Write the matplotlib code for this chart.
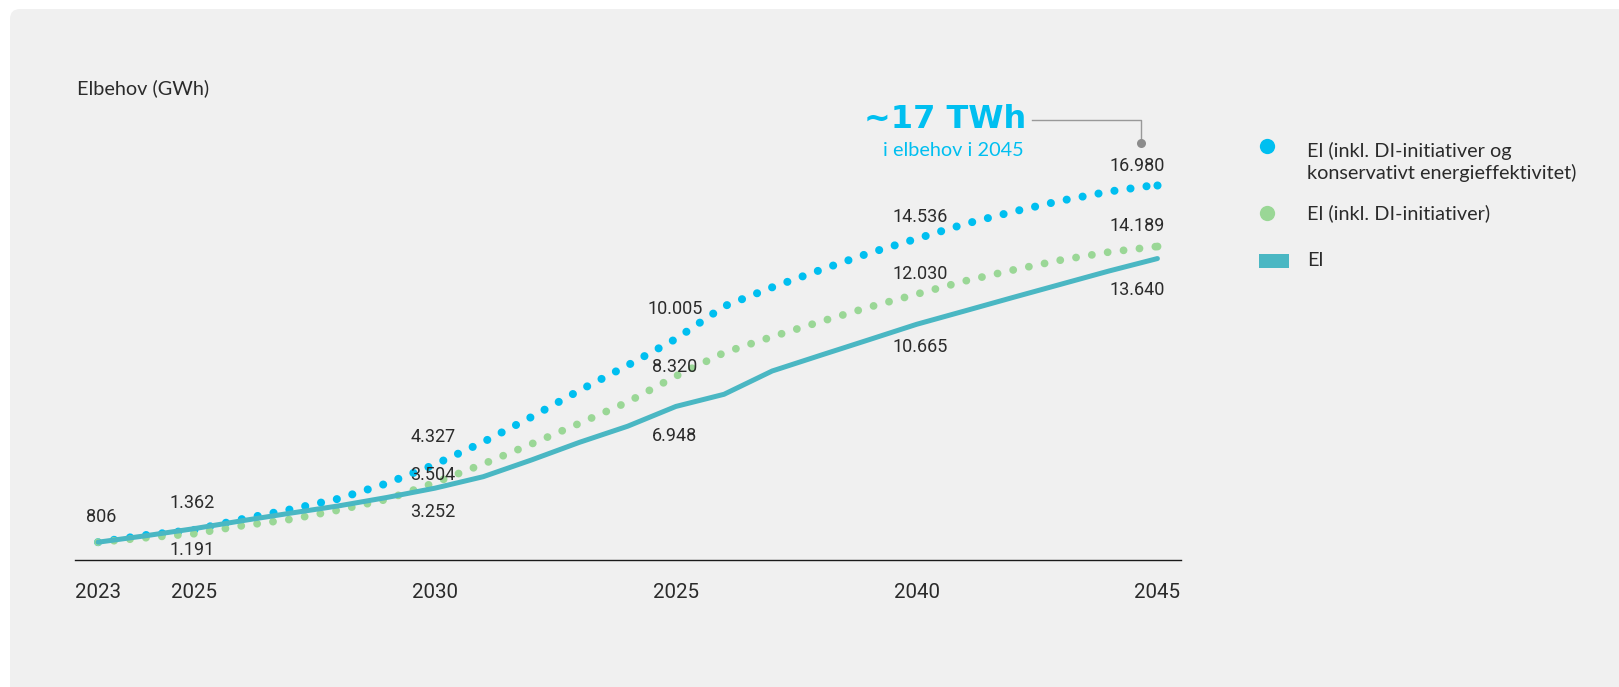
import matplotlib.pyplot as plt
from matplotlib.patches import FancyBboxPatch, Rectangle

# data (GWh)
years = list(range(2023, 2046))
el_konservativ = [806, 1131, 1362, 1855, 2293, 2775, 3469, 4327, 5339, 6471, 7676, 8810,
                  10005, 11480, 12339, 13122, 13878, 14536, 15204, 15760, 16258, 16674, 16980]
el_di = [806, 1010, 1191, 1554, 1840, 2262, 2745, 3504, 4344, 5249, 6185, 7149,
         8320, 9380, 10104, 10783, 11434, 12030, 12624, 13122, 13575, 13937, 14189]
el = [806, 1100, 1420, 1780, 2120, 2450, 2830, 3252, 3770, 4525, 5326, 6054,
      6948, 7498, 8552, 9260, 9960, 10665, 11270, 11880, 12480, 13080, 13640]

tick_years = [2023, 2025, 2030, 2035, 2040, 2045]
tick_labels = ['2023', '2025', '2030', '2025', '2040', '2045']

legend_labels = ['El (inkl. DI-initiativer og\nkonservativt energieffektivitet)',
                 'El (inkl. DI-initiativer)', 'El']

BLUE = '#00bff0'
GREEN = '#9ad796'
TEAL = '#4ab7c3'
TXT = '#2b2b2b'
BG = '#f0f0f0'

W, H = 1619, 687
fig = plt.figure(figsize=(W / 100, H / 100), dpi=100, facecolor='white')

# overlay in pixel coords for background, title, legend, callout
ov = fig.add_axes([0, 0, 1, 1], zorder=0)
ov.set_xlim(0, W)
ov.set_ylim(H, 0)
ov.axis('off')
ov.add_patch(FancyBboxPatch((10, 9), W + 50, H + 50, boxstyle='round,pad=0,rounding_size=10',
                            facecolor=BG, edgecolor='none'))
ov.text(77, 88, 'Elbehov (GWh)', family='Lato', fontsize=14.3, color=TXT, va='center')

# callout
ov.text(864, 120, '~17 TWh', family='DejaVu Sans', fontweight='bold', fontsize=23,
        color=BLUE, va='center')
ov.text(883, 150, 'i elbehov i 2045', family='Lato', fontsize=14.3, color=BLUE, va='center')
ov.plot([1032, 1141, 1141], [119.5, 119.5, 142.7], color='#999999', lw=1.0)
ov.plot([1141], [142.7], 'o', color='#8c8c8c', ms=6.5, mec='none')

# legend
ov.plot([1267], [146], 'o', color=BLUE, ms=11, mec='none')
ov.text(1307, 162, legend_labels[0], family='Lato', fontsize=14.3, color=TXT,
        va='center', linespacing=1.25)
ov.plot([1267], [213], 'o', color=GREEN, ms=11, mec='none')
ov.text(1307, 213, legend_labels[1], family='Lato', fontsize=14.3, color=TXT, va='center')
ov.add_patch(Rectangle((1259, 254), 30, 13.7, facecolor=TEAL, edgecolor='none'))
ov.text(1307, 260, legend_labels[2], family='Lato', fontsize=14.3, color=TXT, va='center')

# main chart
ax = fig.add_axes([75 / W, 1 - 560 / H, (1181 - 75) / W, (560 - 118) / H], zorder=1)
ax.patch.set_alpha(0)
ax.set_xlim(2022.522, 2045.49)
ax.set_ylim(0, 20000)

ax.plot(years, el_konservativ, color=BLUE, lw=5.8, linestyle=(0, (0.01, 2.0)),
        dash_capstyle='round', clip_on=False)
ax.plot(years[-1:], el_konservativ[-1:], 'o', color=BLUE, ms=5.8, mec='none', clip_on=False)
ax.plot(years, el_di, color=GREEN, lw=5.6, linestyle=(0, (0.01, 2.05)),
        dash_capstyle='round', clip_on=False)
ax.plot(years[-1:], el_di[-1:], 'o', color=GREEN, ms=5.6, mec='none', clip_on=False)
ax.plot(years, el, color=TEAL, lw=3.6, solid_capstyle='round', clip_on=False)

for s in ['top', 'left', 'right']:
    ax.spines[s].set_visible(False)
ax.spines['bottom'].set_color('#1a1a1a')
ax.spines['bottom'].set_linewidth(1.0)
ax.set_yticks([])
ax.set_xticks(tick_years)
ax.set_xticklabels(tick_labels, family='Roboto', fontsize=14.8, color=TXT)
ax.tick_params(axis='x', length=0, pad=16.5)


def fmt(v):
    return f'{v:,}'.replace(',', '.')


def lab(x, v, dx, dy):
    ax.annotate(fmt(v), (x, v), xytext=(dx * 0.72, dy * 0.72), textcoords='offset points',
                ha='center', va='center', family='Roboto', fontsize=13, color=TXT,
                annotation_clip=False)


lab(2023, el[0], 3, 25)
blue_off = {2025: (-2, 27), 2030: (-2, 27), 2035: (-1, 30), 2040: (4, 22), 2045: (-20, 19)}
green_off = {2025: (-2, -16), 2030: (-2, 8), 2035: (-1, 9), 2040: (4, 20), 2045: (-20, 20)}
teal_off = {2030: (-2, -24), 2035: (-1, -30), 2040: (4, -23), 2045: (-20, -31)}
for y, (dx, dy) in blue_off.items():
    lab(y, el_konservativ[years.index(y)], dx, dy)
for y, (dx, dy) in green_off.items():
    lab(y, el_di[years.index(y)], dx, dy)
for y, (dx, dy) in teal_off.items():
    lab(y, el[years.index(y)], dx, dy)

fig.savefig('out.png', dpi=100, facecolor='white')
